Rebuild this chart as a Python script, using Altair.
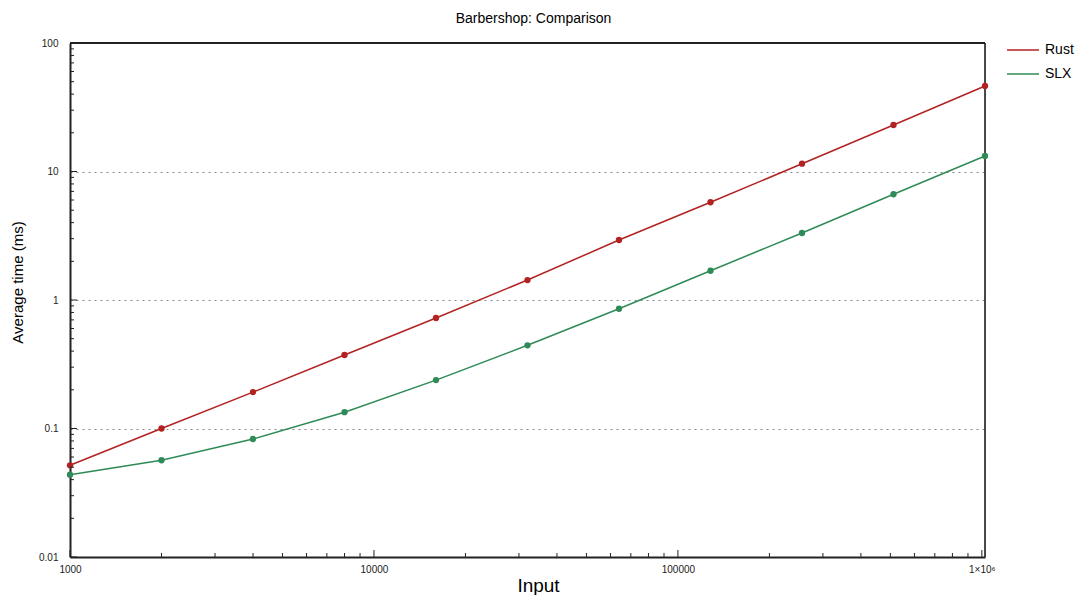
import altair as alt
import pandas as pd

inputs = [1000, 2000, 4000, 8000, 16000, 32000, 64000, 128000, 256000, 512000, 1024000]
rust = [0.0517, 0.100, 0.192, 0.373, 0.724, 1.43, 2.93, 5.76, 11.5, 23.0, 46.3]
slx = [0.0437, 0.0566, 0.0828, 0.134, 0.238, 0.444, 0.855, 1.69, 3.32, 6.65, 13.2]
series = ["Rust", "SLX"]
colors = ["#b22222", "#2e8b57"]

x_major = [1000, 10000, 100000, 1000000]
y_major = [0.01, 0.1, 1, 10, 100]
mult = [2, 3, 4, 5, 6, 7, 8, 9]
x_minor = [m * b for b in [1000, 10000, 100000] for m in mult]
y_minor = [m * b for b in [0.01, 0.1, 1, 10] for m in mult]

W, H = 915, 514
FONT = "Liberation Sans"

df = pd.DataFrame({
    "Input": inputs * 2,
    "Time": rust + slx,
    "Series": [series[0]] * len(inputs) + [series[1]] * len(inputs),
})

xs = alt.Scale(type="log", domain=[1000, 1024000], nice=False)
ys = alt.Scale(type="log", domain=[0.01, 100], nice=False)
cs = alt.Scale(domain=series, range=colors)

xaxis = alt.Axis(values=x_major, title="Input", titleFontSize=19, titleFont=FONT,
                 titleFontWeight="normal", titlePadding=2, titleColor="black",
                 titleX=468,
                 labelExpr="datum.value == 1000000 ? '1×10⁶' : format(datum.value, 'd')",
                 labelFontSize=10, labelFont=FONT, labelColor="#222",
                 labelPadding=7, tickSize=0, grid=False, domainColor="#222",
                 domainWidth=2, labelFlush=False)
yaxis = alt.Axis(values=y_major, title="Average time (ms)", titleFontSize=15,
                 titleFont=FONT, titleFontWeight="normal", titlePadding=13,
                 titleColor="black", titleY=239, format="~g", labelFontSize=10,
                 labelFont=FONT, labelColor="#222", labelPadding=12,
                 tickSize=0, grid=True, gridColor="#888", gridDash=[2, 4],
                 gridWidth=1, domainColor="#222", domainWidth=2)

base = alt.Chart(df)
lines = base.mark_line(strokeWidth=1.5).encode(
    x=alt.X("Input:Q", scale=xs, axis=xaxis),
    y=alt.Y("Time:Q", scale=ys, axis=yaxis),
    color=alt.Color("Series:N", scale=cs, legend=alt.Legend(
        title=None, orient="none", legendX=936, legendY=-10, symbolType="stroke",
        symbolSize=1024, symbolStrokeWidth=1.5, labelFontSize=14, labelFont=FONT,
        labelColor="black", rowPadding=-24, labelOffset=5, padding=0)),
)
points = base.mark_circle(size=40, opacity=1).encode(
    x=alt.X("Input:Q", scale=xs),
    y=alt.Y("Time:Q", scale=ys),
    color=alt.Color("Series:N", scale=cs, legend=None),
)

tick_style = dict(color="#222", strokeWidth=1)
xticks_major = alt.Chart(pd.DataFrame({"v": x_major})).mark_rule(**tick_style).encode(
    x=alt.X("v:Q", scale=xs), y=alt.value(H), y2=alt.value(H - 7))
xticks_minor = alt.Chart(pd.DataFrame({"v": x_minor})).mark_rule(**tick_style).encode(
    x=alt.X("v:Q", scale=xs), y=alt.value(H), y2=alt.value(H - 4))
yticks_major = alt.Chart(pd.DataFrame({"v": y_major})).mark_rule(**tick_style).encode(
    y=alt.Y("v:Q", scale=ys), x=alt.value(0), x2=alt.value(7))
yticks_minor = alt.Chart(pd.DataFrame({"v": y_minor})).mark_rule(**tick_style).encode(
    y=alt.Y("v:Q", scale=ys), x=alt.value(0), x2=alt.value(4))

border_top = alt.Chart(pd.DataFrame({"b": [0]})).mark_rule(color="#222", strokeWidth=2).encode(
    x=alt.value(0), x2=alt.value(W), y=alt.value(0))
border_right = alt.Chart(pd.DataFrame({"b": [0]})).mark_rule(color="#111", strokeWidth=1.5).encode(
    x=alt.value(W), y=alt.value(0), y2=alt.value(H))

chart = alt.layer(border_top, border_right, lines, points, xticks_major, xticks_minor,
                  yticks_major, yticks_minor).properties(
    width=W, height=H,
    title=alt.Title("Barbershop: Comparison", fontSize=14, font=FONT,
                    fontWeight="normal", color="black", offset=7, dx=6),
    autosize=alt.AutoSizeParams(type="none"),
    padding={"left": 62, "top": 35, "right": 90, "bottom": 38},
).configure_view(stroke=None).configure(background="white")

chart.save("out.html", embed_options={"renderer": "svg", "actions": False})
